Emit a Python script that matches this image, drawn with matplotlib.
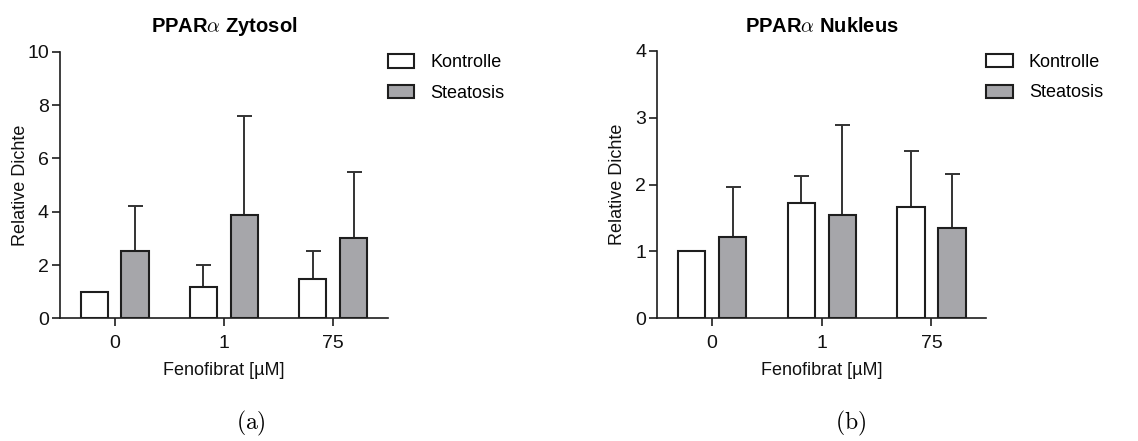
import numpy as np
import matplotlib
matplotlib.use('Agg')
import matplotlib.pyplot as plt

plt.rcParams['font.family'] = ['Liberation Sans', 'DejaVu Sans']
plt.rcParams['mathtext.fontset'] = 'cm'

groups = ['0', '1', '75']
series = ['Kontrolle', 'Steatosis']

zyto_kontrolle = [1.0, 1.17, 1.49]
zyto_kontrolle_err = [0.0, 0.85, 1.04]
zyto_steatosis = [2.54, 3.88, 3.02]
zyto_steatosis_err = [1.68, 3.72, 2.46]

nuk_kontrolle = [1.0, 1.73, 1.66]
nuk_kontrolle_err = [0.0, 0.40, 0.84]
nuk_steatosis = [1.22, 1.55, 1.35]
nuk_steatosis_err = [0.74, 1.34, 0.81]

gray = '#a6a6aa'
edge = '#1e1e1e'
width = 0.25
offset = 0.187

fig = plt.figure(figsize=(11.38, 4.41), dpi=100)
ax1 = fig.add_axes([0.0527, 0.2778, 0.288, 0.605])
ax2 = fig.add_axes([0.5776, 0.2782, 0.2891, 0.6062])


def draw(ax, k, k_err, s, s_err, ymax, yticks, title):
    x = np.arange(len(groups))
    for xs, vals, errs, color, label in [
        (x - offset, k, k_err, 'white', series[0]),
        (x + offset, s, s_err, gray, series[1]),
    ]:
        ax.bar(xs, vals, width, color=color, edgecolor=edge, linewidth=1.5,
               label=label, zorder=3)
        vals = np.array(vals)
        errs = np.array(errs)
        m = errs > 0
        ax.errorbar(xs[m], vals[m], yerr=[np.zeros(m.sum()), errs[m]],
                    fmt='none', ecolor='#333333', elinewidth=1.4,
                    capsize=5.4, capthick=1.4, zorder=2)
    ax.set_xlim(-0.5, 2.5)
    ax.set_ylim(0, ymax)
    ax.set_yticks(yticks)
    ax.set_xticks(x)
    ax.set_xticklabels(groups)
    for sp in ['top', 'right']:
        ax.spines[sp].set_visible(False)
    for sp in ['left', 'bottom']:
        ax.spines[sp].set_linewidth(1.2)
        ax.spines[sp].set_color(edge)
    ax.tick_params(direction='out', length=6, width=1.2, labelsize=14,
                   color=edge, labelcolor='#111111', pad=2)
    ax.tick_params(axis='x', pad=6)
    ax.set_xlabel('Fenofibrat [µM]', fontsize=13, labelpad=7, color='#111111')
    ax.set_ylabel('Relative Dichte', fontsize=13, color='#111111')
    ax.yaxis.set_label_coords(-0.095, 0.5)
    ax.set_title(title, fontsize=14.5, fontweight='bold', pad=14)
    ax.legend(loc='upper left', bbox_to_anchor=(1.0, 0.99), frameon=False,
              fontsize=13, handlelength=1.48, handleheight=0.74,
              handletextpad=0.87, labelspacing=0.76, borderaxespad=0,
              borderpad=0)


draw(ax1, zyto_kontrolle, zyto_kontrolle_err, zyto_steatosis, zyto_steatosis_err,
     10, [0, 2, 4, 6, 8, 10], r'PPAR$\alpha$ Zytosol')
draw(ax2, nuk_kontrolle, nuk_kontrolle_err, nuk_steatosis, nuk_steatosis_err,
     4, [0, 1, 2, 3, 4], r'PPAR$\alpha$ Nukleus')

fig.text(0.2205, 0.006, r'$\mathrm{(a)}$', ha='center', va='bottom', fontsize=17)
fig.text(0.747, 0.006, r'$\mathrm{(b)}$', ha='center', va='bottom', fontsize=17)

fig.savefig('out.png', dpi=100)
